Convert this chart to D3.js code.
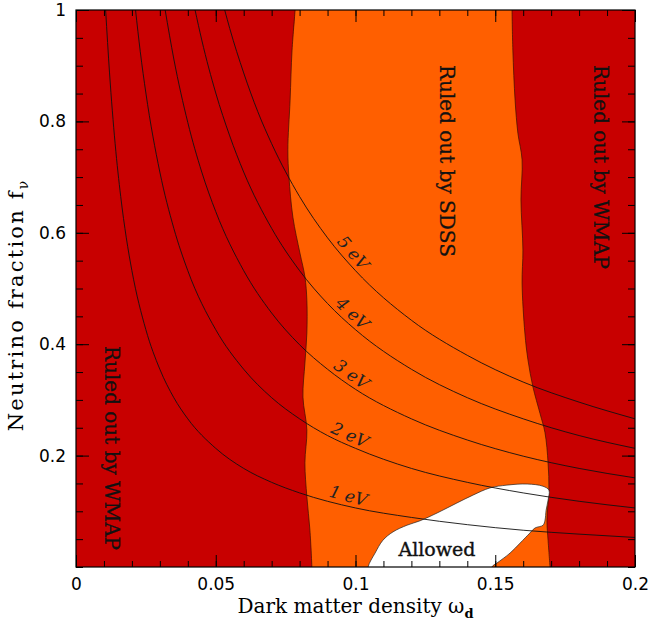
<!DOCTYPE html>
<html><head><meta charset="utf-8">
<script src="https://cdn.jsdelivr.net/npm/d3@7"></script>
<style>body{margin:0;background:#fff}</style>
</head><body>
<svg id="chart" width="650" height="624"></svg>
<script>
// ---- data ----
const xTickValues = [0, 0.05, 0.1, 0.15, 0.2];
const xTickLabels = ["0", "0.05", "0.1", "0.15", "0.2"];
const yTickValues = [0.2, 0.4, 0.6, 0.8, 1];
const yTickLabels = ["0.2", "0.4", "0.6", "0.8", "1"];
const massLabels = ["1 eV", "2 eV", "3 eV", "4 eV", "5 eV"];

// mass curves: [omega_d, f_nu]
const curve1eV = [[0.0106,1],[0.012,0.887],[0.014,0.760],[0.016,0.665],[0.018,0.591],[0.02,0.532],[0.025,0.426],[0.03,0.355],[0.035,0.304],[0.04,0.266],[0.05,0.213],[0.06,0.177],[0.07,0.152],[0.08,0.133],[0.1,0.106],[0.12,0.089],[0.14,0.076],[0.16,0.066],[0.18,0.059],[0.2,0.053]];
const curve2eV = [[0.0213,1],[0.023,0.925],[0.025,0.851],[0.03,0.709],[0.035,0.608],[0.04,0.532],[0.05,0.426],[0.06,0.355],[0.07,0.304],[0.08,0.266],[0.09,0.236],[0.1,0.213],[0.12,0.177],[0.14,0.152],[0.16,0.133],[0.18,0.118],[0.2,0.106]];
const curve3eV = [[0.0319,1],[0.035,0.912],[0.04,0.798],[0.045,0.709],[0.05,0.638],[0.06,0.532],[0.07,0.456],[0.08,0.399],[0.09,0.355],[0.1,0.319],[0.12,0.266],[0.14,0.228],[0.16,0.199],[0.18,0.177],[0.2,0.160]];
const curve4eV = [[0.0426,1],[0.045,0.946],[0.05,0.851],[0.055,0.774],[0.06,0.709],[0.07,0.608],[0.08,0.532],[0.09,0.473],[0.1,0.426],[0.12,0.355],[0.14,0.304],[0.16,0.266],[0.18,0.236],[0.2,0.213]];
const curve5eV = [[0.0532,1],[0.055,0.967],[0.06,0.887],[0.065,0.818],[0.07,0.760],[0.08,0.665],[0.09,0.591],[0.1,0.532],[0.12,0.443],[0.14,0.380],[0.16,0.332],[0.18,0.296],[0.2,0.266]];

// SDSS exclusion boundaries (top to bottom)
const sdssLeftEdge = [[0.0784,1],[0.0773,0.928],[0.0766,0.838],[0.0758,0.749],[0.0762,0.700],[0.0776,0.628],[0.0801,0.564],[0.0819,0.521],[0.0826,0.479],[0.0826,0.420],[0.0819,0.366],[0.0812,0.305],[0.0826,0.246],[0.0819,0.187],[0.0826,0.126],[0.0837,0.066],[0.0844,0]];
const wmapRightEdge = [[0.1560,1],[0.1563,0.928],[0.1571,0.838],[0.1581,0.779],[0.1596,0.731],[0.1592,0.659],[0.1599,0.569],[0.1596,0.510],[0.1606,0.420],[0.1617,0.372],[0.1635,0.323],[0.1660,0.276],[0.1678,0.241],[0.1689,0.187],[0.1692,0.138],[0.1685,0.084],[0.1689,0.048],[0.1696,0]];
// allowed (white) region outline
const allowedRegion = [[0.1045,-0.02],[0.1045,0],[0.1070,0.025],[0.1098,0.048],[0.1134,0.063],[0.1184,0.075],[0.1231,0.083],[0.1292,0.097],[0.1363,0.115],[0.1420,0.129],[0.1481,0.142],[0.1542,0.147],[0.1614,0.149],[0.1671,0.145],[0.1692,0.138],[0.1689,0.120],[0.1682,0.102],[0.1678,0.084],[0.1671,0.075],[0.1642,0.070],[0.1624,0.061],[0.1589,0.043],[0.1553,0.025],[0.1506,0.007],[0.1488,0],[0.1488,-0.02]];

const curves = [curve1eV, curve2eV, curve3eV, curve4eV, curve5eV];

// ---- layout ----
const L = 76, R = 635, T = 10, B = 567;
const darkRed = "#c80000", orange = "#ff5f00";
const serif = "'DejaVu Serif', serif";
const sans = "'DejaVu Sans', sans-serif";

const svg = d3.select("#chart");
const x = d3.scaleLinear().domain([0, 0.2]).range([L, R]);
const y = d3.scaleLinear().domain([0, 1]).range([B, T]);

svg.append("defs").append("clipPath").attr("id", "plotclip")
  .append("rect").attr("x", L).attr("y", T).attr("width", R - L).attr("height", B - T);

const plot = svg.append("g").attr("clip-path", "url(#plotclip)");

plot.append("rect").attr("x", L).attr("y", T).attr("width", R - L).attr("height", B - T).attr("fill", darkRed);

const edgeLine = d3.line().x(d => x(d[0])).y(d => y(d[1])).curve(d3.curveCatmullRom.alpha(0.5));

// orange SDSS band
const bandPts = [[sdssLeftEdge[0][0], 1.05], ...sdssLeftEdge, [sdssLeftEdge[sdssLeftEdge.length-1][0], -0.05],
  [wmapRightEdge[wmapRightEdge.length-1][0], -0.05], ...wmapRightEdge.slice().reverse(), [wmapRightEdge[0][0], 1.05]];
plot.append("path")
  .attr("d", d3.line().x(d => x(d[0])).y(d => y(d[1])).curve(d3.curveCatmullRomClosed.alpha(0.5))(bandPts))
  .attr("fill", orange);
[sdssLeftEdge, wmapRightEdge].forEach(e => {
  plot.append("path").attr("d", edgeLine(e)).attr("fill", "none").attr("stroke", "#3a1000").attr("stroke-width", 0.7);
});

// allowed region
plot.append("path")
  .attr("d", d3.line().x(d => x(d[0])).y(d => y(d[1])).curve(d3.curveCatmullRomClosed.alpha(0.5))(allowedRegion))
  .attr("fill", "#ffffff").attr("stroke", "#222").attr("stroke-width", 0.7);

// mass curves
const massLine = d3.line().x(d => x(d[0])).y(d => y(d[1])).curve(d3.curveMonotoneX);
curves.forEach(c => {
  plot.append("path").attr("d", massLine(c)).attr("fill", "none").attr("stroke", "#111").attr("stroke-width", 0.9);
});

// curve labels, placed along each curve
const labelX = 0.0965;
curves.forEach((c, i) => {
  let k = c.findIndex(d => d[0] >= labelX);
  const a = c[k - 1], b = c[k];
  const t = (labelX - a[0]) / (b[0] - a[0]);
  const fy = a[1] + t * (b[1] - a[1]);
  const px = x(labelX), py = y(fy);
  const ang = Math.atan2(y(b[1]) - y(a[1]), x(b[0]) - x(a[0])) * 180 / Math.PI;
  plot.append("text")
    .attr("transform", `translate(${px},${py}) rotate(${ang})`)
    .attr("x", 0).attr("y", -4)
    .attr("text-anchor", "middle")
    .attr("font-family", serif).attr("font-style", "italic").attr("font-size", 17)
    .attr("fill", "#222")
    .text(massLabels[i]);
});

// region labels
function vtext(tx, ty, anchor, str) {
  plot.append("text").attr("transform", `translate(${tx},${ty}) rotate(90)`)
    .attr("text-anchor", anchor).attr("font-family", serif).attr("font-size", 20).attr("fill", "#111")
    .attr("stroke", "#111").attr("stroke-width", 0.3).text(str);
}
vtext(440, 65, "start", "Ruled out by SDSS");
vtext(594, 65, "start", "Ruled out by WMAP");
vtext(105, 346, "start", "Ruled out by WMAP");
plot.append("text").attr("x", 437).attr("y", 556).attr("text-anchor", "middle")
  .attr("font-family", serif).attr("font-size", 19).attr("fill", "#111")
  .attr("stroke", "#111").attr("stroke-width", 0.4).text("Allowed");

// ---- axes ----
const minorX = d3.range(0, 21).map(i => i * 0.01);
const minorY = d3.range(0, 21).map(i => i * 0.05);
function styleAxis(g) {
  g.select(".domain").remove();
  g.selectAll("line").attr("stroke", "#000").attr("stroke-width", 1);
  g.selectAll("text").attr("font-family", sans).attr("font-size", 17).attr("fill", "#000");
}
svg.append("g").attr("transform", `translate(0,${B})`)
  .call(d3.axisBottom(x).tickValues(minorX).tickSize(-6).tickFormat("")).call(styleAxis);
svg.append("g").attr("transform", `translate(0,${B})`)
  .call(d3.axisBottom(x).tickValues(xTickValues).tickSize(-12).tickPadding(11)
    .tickFormat((d, i) => xTickLabels[i])).call(styleAxis);
svg.append("g").attr("transform", `translate(0,${T})`)
  .call(d3.axisTop(x).tickValues(minorX).tickSize(-6).tickFormat("")).call(styleAxis);
svg.append("g").attr("transform", `translate(0,${T})`)
  .call(d3.axisTop(x).tickValues(xTickValues).tickSize(-12).tickFormat("")).call(styleAxis);
svg.append("g").attr("transform", `translate(${L},0)`)
  .call(d3.axisLeft(y).tickValues(minorY).tickSize(-7).tickFormat("")).call(styleAxis);
svg.append("g").attr("transform", `translate(${L},0)`)
  .call(d3.axisLeft(y).tickValues(yTickValues).tickSize(-13).tickPadding(10)
    .tickFormat((d, i) => yTickLabels[i])).call(styleAxis);
svg.append("g").attr("transform", `translate(${R},0)`)
  .call(d3.axisRight(y).tickValues(minorY).tickSize(-7).tickFormat("")).call(styleAxis);
svg.append("g").attr("transform", `translate(${R},0)`)
  .call(d3.axisRight(y).tickValues(yTickValues).tickSize(-13).tickFormat("")).call(styleAxis);

svg.append("rect").attr("x", L).attr("y", T).attr("width", R - L).attr("height", B - T)
  .attr("fill", "none").attr("stroke", "#000").attr("stroke-width", 1.2);

// axis titles
const xt = svg.append("text").attr("x", (L + R) / 2).attr("y", 613).attr("text-anchor", "middle")
  .attr("font-family", serif).attr("font-size", 20).attr("fill", "#000");
xt.append("tspan").text("Dark matter density ω");
xt.append("tspan").attr("dy", 5).attr("font-size", 13).attr("font-weight", "bold").text("d");

const yt = svg.append("text").attr("transform", `translate(23,306) rotate(-90)`).attr("text-anchor", "middle")
  .attr("font-family", serif).attr("font-size", 21).attr("letter-spacing", 2.2).attr("fill", "#000");
yt.append("tspan").text("Neutrino fraction f");
yt.append("tspan").attr("dy", 5).attr("font-size", 14).attr("letter-spacing", 0).text("ν");
</script>
</body></html>
